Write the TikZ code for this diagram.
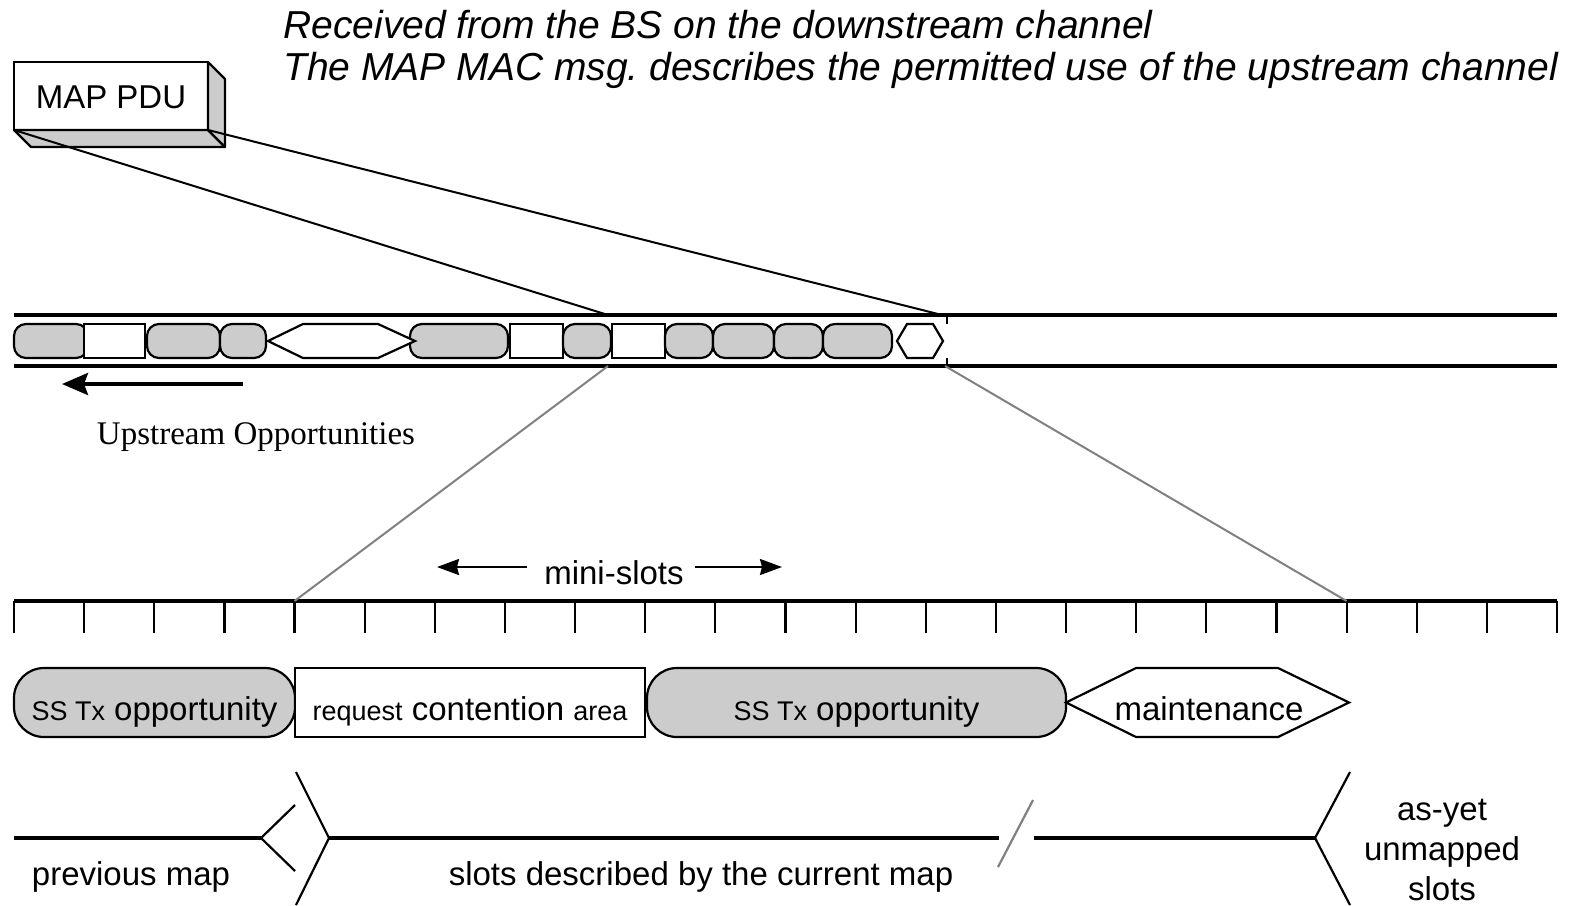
\documentclass[tikz,border=0pt]{standalone}
\usepackage{fontspec}
\setmainfont{Liberation Sans}
\newfontfamily\serifup{Liberation Serif}
\usetikzlibrary{arrows.meta, positioning}

\newcommand\lesser[1]{{\fontsize{13.5}{16}\selectfont #1}}
\frenchspacing

\begin{document}
\begin{tikzpicture}[x=0.5pt, y=-0.5pt,
  txt/.style={font=\fontsize{16.5}{20}\selectfont, inner sep=0pt},
  head/.style={font=\fontsize{19.5}{21}\selectfont\itshape, inner sep=0pt, anchor=base west},
  slotg/.style={draw, fill=gray!40, line width=1.1pt, rounded corners=6pt, minimum height=17pt, inner sep=0pt, outer sep=0pt},
  slotw/.style={draw, fill=white, line width=1.1pt, minimum height=17pt, inner sep=0pt, outer sep=0pt},
  bigg/.style={draw, fill=gray!40, line width=1.1pt, rounded corners=15pt, minimum height=34.5pt, inner sep=0pt, outer sep=0pt, txt, text height=17.5pt, text depth=0pt},
  bigw/.style={draw, fill=white, line width=1.1pt, minimum height=34.5pt, inner sep=0pt, outer sep=0pt, txt, text height=17.5pt, text depth=0pt},
  hexa/.style={draw, fill=white, line width=1.1pt, line join=miter},
  thick line/.style={line width=1.9pt},
  br/.style={line width=1.1pt},
  zoomline/.style={line width=1pt, gray},
  ]
\useasboundingbox (0,0) rectangle (1572,905);

% heading
\node[head] (recv) at (283,38) {Received from the BS on the downstream channel};
\node[head] (desc) at (283,80) {The MAP MAC msg. describes the permitted use of the upstream channel};

% the MAP PDU block
\node[draw, fill=white, line width=1.1pt, minimum width=97pt, minimum height=34pt, inner sep=0pt, outer sep=0pt, font=\fontsize{16.5}{20}\selectfont, text height=12pt, text depth=0pt] (pdu) at (111,96) {MAP PDU};
\filldraw[fill=gray!40, line width=1.1pt, line join=round] (pdu.south west) -- ++(17,17) -- ++(194,0) -- (pdu.south east) -- cycle;
\filldraw[fill=gray!40, line width=1.1pt, line join=round] (pdu.south east) -- (pdu.north east) -- ++(17,17) -- ++(0,68) -- cycle;

% upstream channel
\draw[thick line] (14,315) -- (1557,315);
\draw[thick line] (14,366) -- (1557,366);
\foreach \a/\b/\s [count=\i] in {14/88/slotg, 84/145/slotw, 147/220/slotg, 220/266/slotg,
    410/508/slotg, 510/563/slotw, 563/611/slotg, 612/665/slotw, 665/713/slotg,
    713/774/slotg, 774/823/slotg, 823/892/slotg}
  \node[\s, minimum width={(\b-\a)*0.5pt}] (up\i) at ({(\a+\b)/2},341) {};
\draw[hexa] (268,341) -- (303,324) -- (378,324) -- (415,341) -- (378,358) -- (303,358) -- cycle;
\draw[hexa] (897,341) -- (907,324) -- (933,324) -- (943,341) -- (933,358) -- (907,358) -- cycle;
\draw[line width=1.3pt] (947,315) -- (947,324) (947,358) -- (947,366);

\coordinate (m1) at (608,315);
\coordinate (m2) at (942,315);
\draw[line width=1pt] (pdu.south west) -- (m1);
\draw[line width=1pt] (pdu.south east) -- (m2);

\coordinate (ua) at (243,384);
\coordinate (ub) at (62,384);
\draw[thick line, -{Stealth[length=13pt, width=11pt, inset=2pt]}] (ua) -- (ub);
\node[font=\serifup\fontsize{16.5}{20}\selectfont, inner sep=0pt] (upop) at (256,437) {Upstream Opportunities};

% mini-slot ruler
\node[txt] (ms) at (614,573) {mini-slots};
\coordinate (msl) at (437,567);
\coordinate (msr) at (782,567);
\draw[line width=1.1pt, -{Stealth[length=11pt, width=8pt, inset=1pt]}] (527,567) -- (msl);
\draw[line width=1.1pt, -{Stealth[length=11pt, width=8pt, inset=1pt]}] (695,567) -- (msr);

\draw[thick line] (14,601) -- (1557,601);
\foreach \k in {0,...,22}
  \draw[line width=1.1pt] ({14+70.136*\k},601) coordinate (t\k) -- ++(0,32);

\coordinate (z1) at (608,366);
\coordinate (z2) at (945,366);
\draw[zoomline] (z1) -- (t4);
\draw[zoomline] (z2) -- (t19);

% one map in detail
\node[bigg, minimum width=140.5pt] (ssa) at (154.5,702.5) {\lesser{SS Tx} opportunity};
\node[bigw, minimum width=175pt] (req) at (470,702.5) {\lesser{request} contention \lesser{area}};
\node[bigg, minimum width=209.5pt] (ssb) at (856.5,702.5) {\lesser{SS Tx} opportunity};
\draw[hexa] (1066,702.5) -- (1136,668) -- (1278,668) -- (1349,702.5) -- (1278,737) -- (1136,737) -- cycle;
\node[txt, text height=17.5pt, text depth=0pt] (mnt) at (1209,702.5) {maintenance};

% map boundaries
\draw[thick line] (14,838) -- (261,838);
\draw[br] (295,805) -- (261,838) -- (295,871);
\draw[br] (296,772) -- (329,838) -- (296,905);
\draw[thick line] (329,838) -- (999,838);
\draw[br, gray] (1033,800) -- (998,867);
\draw[thick line] (1034,838) -- (1315,838);
\draw[br] (1350,772) -- (1315,838) -- (1350,905);

\node[txt] (prev) at (131,877) {previous map};
\node[txt] (cur) at (701,877) {slots described by the current map};
\node[txt, align=center] (unm) at (1442,850) {as-yet\\unmapped\\slots};
\end{tikzpicture}
\end{document}
